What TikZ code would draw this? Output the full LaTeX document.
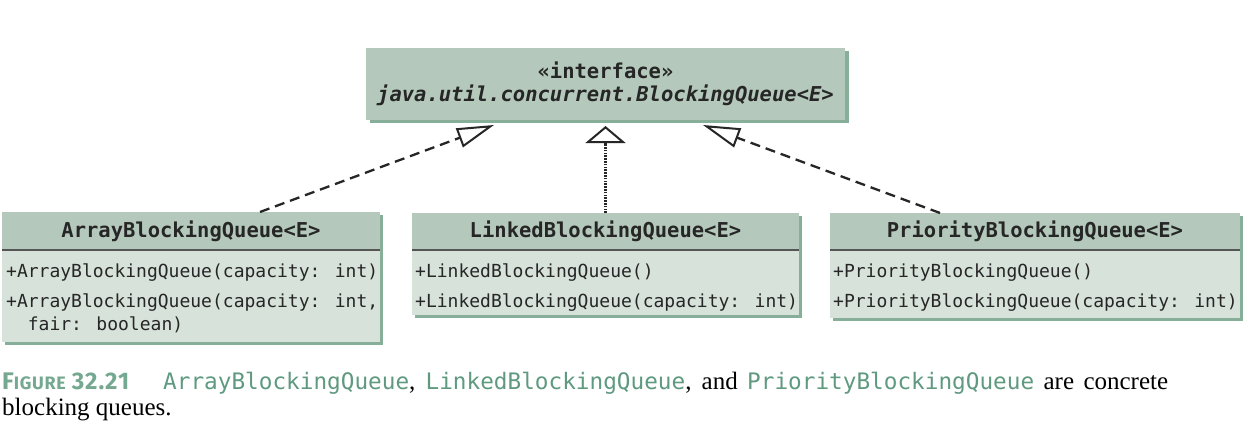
\documentclass[tikz,border=0pt]{standalone}
\usepackage{fontspec}
\setmainfont{Liberation Serif}
\newfontfamily\umono{DejaVu Sans Mono}
\newfontfamily\capsans[LetterSpace=4]{Fira Sans}
\usetikzlibrary{arrows.meta,shadows}
\definecolor{headc}{HTML}{B4C9BC}
\definecolor{bodyc}{HTML}{D7E2DA}
\definecolor{shadc}{HTML}{86AE99}
\definecolor{sepc}{HTML}{555555}
\definecolor{txtc}{HTML}{262626}
\definecolor{capg}{HTML}{5F9A80}
\definecolor{figg}{HTML}{74A890}
\newcommand{\hfont}{\umono\bfseries\fontsize{20.5}{23}\selectfont}
\newcommand{\bfont}{\umono\fontsize{18}{22}\selectfont}
\newcommand{\cmono}[1]{\textcolor{capg}{{\umono\fontsize{22.7}{26}\selectfont #1}}}
\tikzset{
  x=1pt, y=-1pt,
  boxbase/.style={anchor=north west, inner sep=0pt, outer sep=0pt,
     drop shadow={shadow xshift=3pt, shadow yshift=-3pt, fill=shadc, opacity=1}},
  classbox/.style={boxbase, fill=bodyc},
  headbox/.style={anchor=north west, inner sep=0pt, outer sep=0pt, fill=headc,
     text=txtc, font=\hfont},
  ifacebox/.style={anchor=north west, inner sep=0pt, outer sep=0pt, fill=headc,
     text=txtc, font=\hfont, align=center,
     drop shadow={shadow xshift=4pt, shadow yshift=-3pt, fill=shadc, opacity=1}},
  sepline/.style={draw=sepc, line width=1.3pt},
  member/.style={anchor=base west, inner sep=0pt, text=txtc, font=\bfont},
  realize/.style={draw=black!85, line width=2.3pt, dash pattern=on 10pt off 6pt,
     -{Triangle[open, length=37pt, width=20pt, line width=2pt]}},
  realizedot/.style={draw=black!85, line width=2.6pt, dash pattern=on 1.6pt off 1.2pt,
     -{Triangle[open, length=17pt, width=40pt, line width=2pt, line cap=butt]}},
}
\begin{document}
\begin{tikzpicture}
\useasboundingbox (0,0) rectangle (1248,437);
\fill[white] (0,0) rectangle (1248,437);

% interface
\node[ifacebox, minimum width=479pt, minimum height=72pt] (iface) at (366,48)
  {«interface»\\ \itshape java.util.concurrent.BlockingQueue<E>};

% ArrayBlockingQueue
\node[classbox, minimum width=378pt, minimum height=130pt] (arrBox) at (2,212) {};
\node[headbox, minimum width=378pt, minimum height=38pt] (arrHead) at (2,212) {ArrayBlockingQueue<E>};
\draw[sepline] (arrHead.south west) -- (arrHead.south east);
\node[member] (arrM1) at (6,277) {+ArrayBlockingQueue(capacity: int)};
\node[member] (arrM2) at (6,307) {+ArrayBlockingQueue(capacity: int,};
\node[member] (arrM3) at (6,330) {\ \ fair: boolean)};

% LinkedBlockingQueue
\node[classbox, minimum width=387pt, minimum height=102pt] (lnkBox) at (412,213) {};
\node[headbox, minimum width=387pt, minimum height=37pt] (lnkHead) at (412,213) {LinkedBlockingQueue<E>};
\draw[sepline] (lnkHead.south west) -- (lnkHead.south east);
\node[member] (lnkM1) at (415,277) {+LinkedBlockingQueue()};
\node[member] (lnkM2) at (415,307) {+LinkedBlockingQueue(capacity: int)};

% PriorityBlockingQueue
\node[classbox, minimum width=410pt, minimum height=105pt] (priBox) at (830,213) {};
\node[headbox, minimum width=410pt, minimum height=37pt] (priHead) at (830,213) {PriorityBlockingQueue<E>};
\draw[sepline] (priHead.south west) -- (priHead.south east);
\node[member] (priM1) at (833,277) {+PriorityBlockingQueue()};
\node[member] (priM2) at (833,307) {+PriorityBlockingQueue(capacity: int)};

% connectors
\coordinate (tipL) at (494,125);
\coordinate (tipM) at (605.5,126);
\coordinate (tipR) at (703,125);
\draw[realize] ([xshift=258pt]arrBox.north west) -- (tipL);
\draw[realizedot] (lnkBox.north) -- (tipM);
\draw[realize] ([xshift=110pt]priBox.north west) -- (tipR);

% caption
\node[anchor=base west, inner sep=0pt, font=\fontsize{25}{27}\selectfont] (cap1) at (2,389)
  {\hbox to 1166pt{\makebox[161pt][l]{\textcolor{figg}{\capsans\bfseries{\fontsize{24}{24}\selectfont F}{\fontsize{18}{18}\selectfont IGURE}\hspace{6pt}{\fontsize{24}{24}\selectfont 32.21}}}\cmono{ArrayBlockingQueue}, \cmono{LinkedBlockingQueue}, and \cmono{PriorityBlockingQueue} are concrete}};
\node[anchor=base west, inner sep=0pt, font=\fontsize{25}{27}\selectfont] (cap2) at (2,415)
  {blocking queues.};
\end{tikzpicture}
\end{document}
